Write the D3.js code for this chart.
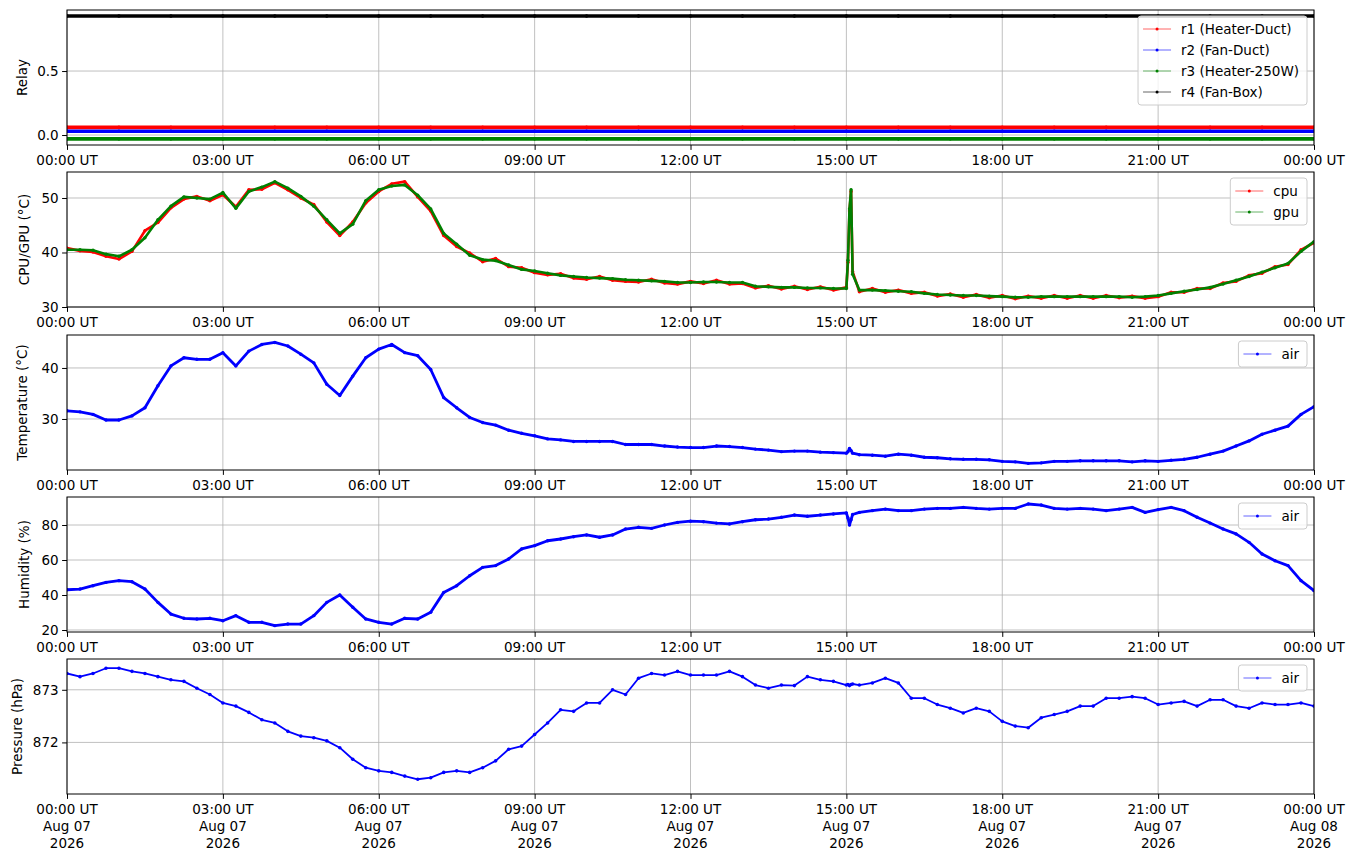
<!DOCTYPE html>
<html>
<head>
<meta charset="utf-8">
<script src="https://cdn.jsdelivr.net/npm/d3@7"></script>
<style>
  body { margin: 0; background: #fff; }
  text { font-family: "DejaVu Sans", sans-serif; }
</style>
</head>
<body>
<div id="chart"></div>
<script>
// sample times, hours after 2026-08-07 00:00 UT
const hours = [
  0, 0.25, 0.5, 0.75, 1, 1.25, 1.5, 1.75, 2, 2.25, 2.5, 2.75,
  3, 3.25, 3.5, 3.75, 4, 4.25, 4.5, 4.75, 5, 5.25, 5.5, 5.75,
  6, 6.25, 6.5, 6.75, 7, 7.25, 7.5, 7.75, 8, 8.25, 8.5, 8.75,
  9, 9.25, 9.5, 9.75, 10, 10.25, 10.5, 10.75, 11, 11.25, 11.5, 11.75,
  12, 12.25, 12.5, 12.75, 13, 13.25, 13.5, 13.75, 14, 14.25, 14.5, 14.75,
  15, 15.03, 15.06, 15.09, 15.12, 15.25, 15.5, 15.75,
  16, 16.25, 16.5, 16.75, 17, 17.25, 17.5, 17.75,
  18, 18.25, 18.5, 18.75, 19, 19.25, 19.5, 19.75,
  20, 20.25, 20.5, 20.75, 21, 21.25, 21.5, 21.75,
  22, 22.25, 22.5, 22.75, 23, 23.25, 23.5, 23.75, 24
];

const gpu = [
  40.5, 40.5, 40.4, 39.7, 39.3, 40.5, 42.7, 46.0, 48.5, 50.2, 50.0, 49.8,
  51.0, 48.1, 51.2, 52.0, 53.0, 51.8, 50.3, 48.5, 46.0, 43.5, 45.2, 49.5,
  51.5, 52.2, 52.4, 50.5, 48.0, 43.5, 41.5, 39.5, 38.7, 38.5, 37.7, 36.9,
  36.6, 36.2, 35.8, 35.6, 35.4, 35.3, 35.2, 35.0, 34.9, 34.8, 34.7, 34.5,
  34.5, 34.6, 34.6, 34.5, 34.5, 33.8, 33.7, 33.6, 33.6, 33.5, 33.5, 33.4,
  33.4, 38.6, 48.0, 51.5, 36.0, 33.1, 33.1, 33.0,
  32.9, 32.8, 32.5, 32.3, 32.2, 32.1, 32.1, 32.0,
  31.9, 31.8, 31.8, 31.9, 31.9, 31.9, 31.9, 31.9,
  31.9, 31.9, 31.8, 31.9, 32.1, 32.5, 32.9, 33.2,
  33.6, 34.2, 34.9, 35.6, 36.4, 37.2, 38.0, 40.2, 42.0
];

const cpu = [
  40.8, 40.3, 40.1, 39.3, 38.8, 40.2, 44.0, 45.5, 48.2, 49.8, 50.3, 49.5,
  50.6, 48.4, 51.5, 51.6, 52.8, 51.5, 50.0, 48.8, 45.6, 43.1, 45.6, 49.1,
  51.2, 52.6, 53.0, 50.2, 47.6, 43.1, 41.1, 39.9, 38.3, 38.9, 37.4, 37.2,
  36.3, 35.9, 36.1, 35.3, 35.1, 35.6, 34.9, 34.7, 34.6, 35.1, 34.4, 34.2,
  34.7, 34.3, 34.9, 34.2, 34.3, 33.5, 33.9, 33.3, 33.8, 33.2, 33.7, 33.1,
  33.6, 38.2, 47.6, 51.2, 36.5, 32.8, 33.4, 32.7,
  33.1, 32.5, 32.7, 32.0, 32.4, 31.8, 32.3, 31.7,
  32.1, 31.5, 32.0, 31.6, 32.1, 31.6, 32.1, 31.6,
  32.1, 31.7, 32.0, 31.6, 31.9, 32.7, 32.7, 33.4,
  33.4, 34.4, 34.7, 35.8, 36.2, 37.4, 37.8, 40.5, 41.8
];

const airTemp = [
  31.6, 31.4, 30.9, 29.8, 29.8, 30.6, 32.2, 36.5, 40.4, 42.0, 41.7, 41.7,
  43.0, 40.4, 43.3, 44.6, 45.0, 44.3, 42.7, 41.0, 36.8, 34.6, 38.4, 42.0,
  43.7, 44.6, 43.0, 42.4, 39.7, 34.2, 32.2, 30.3, 29.3, 28.8, 27.8, 27.2,
  26.7, 26.1, 25.9, 25.6, 25.6, 25.6, 25.6, 25.0, 25.0, 25.0, 24.7, 24.5,
  24.4, 24.4, 24.7, 24.6, 24.4, 24.1, 23.9, 23.6, 23.7, 23.7, 23.5, 23.4,
  23.3, 23.6, 24.2, 23.8, 23.3, 23.0, 22.9, 22.7,
  23.1, 22.9, 22.5, 22.4, 22.2, 22.1, 22.1, 22.0,
  21.7, 21.6, 21.3, 21.4, 21.7, 21.7, 21.8, 21.8,
  21.8, 21.8, 21.6, 21.8, 21.7, 21.9, 22.1, 22.5,
  23.1, 23.7, 24.7, 25.7, 27.0, 27.8, 28.6, 30.9, 32.4
];

const humidity = [
  43.0, 43.4, 45.3, 47.2, 48.2, 47.6, 43.4, 35.8, 29.1, 26.7, 26.3, 26.7,
  25.3, 28.2, 24.4, 24.4, 22.5, 23.4, 23.4, 28.2, 35.8, 40.0, 33.0, 26.3,
  24.4, 23.4, 26.7, 26.3, 30.1, 41.5, 45.3, 51.0, 55.8, 56.8, 60.6, 66.3,
  68.2, 71.0, 72.0, 73.3, 74.3, 73.0, 74.3, 77.7, 78.7, 78.1, 80.0, 81.5,
  82.2, 81.9, 81.1, 80.6, 81.9, 83.0, 83.4, 84.4, 85.7, 85.0, 85.7, 86.3,
  86.9, 84.0, 80.0, 83.0, 86.0, 87.2, 88.2, 89.1,
  88.2, 88.2, 89.1, 89.5, 89.5, 90.1, 89.5, 89.1,
  89.5, 89.5, 92.0, 91.4, 89.5, 89.1, 89.5, 89.1,
  88.2, 89.1, 90.1, 87.2, 88.8, 90.1, 88.2, 84.4,
  81.1, 77.7, 74.9, 70.1, 63.4, 59.6, 56.8, 48.2, 42.5
];

const pressure = [
  873.31, 873.25, 873.31, 873.41, 873.41, 873.35, 873.31, 873.25, 873.19, 873.16, 873.03, 872.91,
  872.75, 872.69, 872.57, 872.43, 872.37, 872.21, 872.12, 872.09, 872.03, 871.90, 871.68, 871.52,
  871.46, 871.43, 871.36, 871.30, 871.33, 871.43, 871.46, 871.43, 871.52, 871.65, 871.87, 871.93,
  872.15, 872.37, 872.62, 872.59, 872.75, 872.75, 873.00, 872.91, 873.22, 873.31, 873.28, 873.35,
  873.28, 873.28, 873.28, 873.35, 873.25, 873.09, 873.03, 873.09, 873.08, 873.25, 873.19, 873.16,
  873.09, 873.10, 873.08, 873.10, 873.11, 873.09, 873.13, 873.22,
  873.13, 872.84, 872.84, 872.72, 872.65, 872.56, 872.65, 872.59,
  872.40, 872.31, 872.28, 872.47, 872.53, 872.59, 872.69, 872.69,
  872.84, 872.84, 872.87, 872.84, 872.72, 872.75, 872.78, 872.69,
  872.81, 872.81, 872.69, 872.65, 872.75, 872.72, 872.72, 872.75, 872.69
];

// relay states (plotted with a small offset per relay), sampled hourly
const relayHours = [0, 1, 2, 3, 4, 5, 6, 7, 8, 9, 10, 11, 12, 13, 14, 15, 16, 17, 18, 19, 20, 21, 22, 23, 24];
const r1 = [0.06, 0.06, 0.06, 0.06, 0.06, 0.06, 0.06, 0.06, 0.06, 0.06, 0.06, 0.06, 0.06, 0.06, 0.06, 0.06, 0.06, 0.06, 0.06, 0.06, 0.06, 0.06, 0.06, 0.06, 0.06];
const r2 = [0.03, 0.03, 0.03, 0.03, 0.03, 0.03, 0.03, 0.03, 0.03, 0.03, 0.03, 0.03, 0.03, 0.03, 0.03, 0.03, 0.03, 0.03, 0.03, 0.03, 0.03, 0.03, 0.03, 0.03, 0.03];
const r3 = [-0.03, -0.03, -0.03, -0.03, -0.03, -0.03, -0.03, -0.03, -0.03, -0.03, -0.03, -0.03, -0.03, -0.03, -0.03, -0.03, -0.03, -0.03, -0.03, -0.03, -0.03, -0.03, -0.03, -0.03, -0.03];
const r4 = [0.93, 0.93, 0.93, 0.93, 0.93, 0.93, 0.93, 0.93, 0.93, 0.93, 0.93, 0.93, 0.93, 0.93, 0.93, 0.93, 0.93, 0.93, 0.93, 0.93, 0.93, 0.93, 0.93, 0.93, 0.93];

const relayNames = ["r1 (Heater-Duct)", "r2 (Fan-Duct)", "r3 (Heater-250W)", "r4 (Fan-Box)"];
const xTickHours = [0, 3, 6, 9, 12, 15, 18, 21, 24];

const W = 1355, H = 861;
const left = 67, right = 1314, panelH = 135;
const start = Date.UTC(2026, 7, 7, 0, 0);
const toDate = h => new Date(start + h * 3600e3);

const x = d3.scaleUtc().domain([toDate(0), toDate(24)]).range([left, right]);

const svg = d3.select("#chart").append("svg")
    .attr("width", W).attr("height", H);

// trace: width of the drawn line (the original trace is a dense run of dots)
const panels = [
    {top: 10, domain: [-0.078, 0.977], ticks: [0, 0.5], fmt: d3.format(".1f"), label: "Relay", labelX: 22, trace: 3.6, dot: 1.8,
     series: [
        {name: relayNames[0], t: relayHours, v: r1, color: "red"},
        {name: relayNames[1], t: relayHours, v: r2, color: "blue"},
        {name: relayNames[2], t: relayHours, v: r3, color: "green"},
        {name: relayNames[3], t: relayHours, v: r4, color: "black"}]},
    {top: 172, domain: [30, 54.77], ticks: [30, 40, 50], fmt: d3.format("d"), label: "CPU/GPU (°C)", labelX: 24, trace: 2.6, dot: 1.7,
     series: [
        {name: "cpu", t: hours, v: cpu, color: "red"},
        {name: "gpu", t: hours, v: gpu, color: "green"}]},
    {top: 335, domain: [20.0, 46.46], ticks: [30, 40], fmt: d3.format("d"), label: "Temperature (°C)", labelX: 22, trace: 2.8, dot: 1.7,
     series: [{name: "air", t: hours, v: airTemp, color: "blue"}]},
    {top: 497, domain: [18.86, 96], ticks: [20, 40, 60, 80], fmt: d3.format("d"), label: "Humidity (%)", labelX: 24, trace: 2.8, dot: 1.7,
     series: [{name: "air", t: hours, v: humidity, color: "blue"}]},
    {top: 659, domain: [871.02, 873.585], ticks: [872, 873], fmt: d3.format("d"), label: "Pressure (hPa)", labelX: 17, trace: 1.8, dot: 1.8,
     series: [{name: "air", t: hours, v: pressure, color: "blue"}], last: true}
];

panels.forEach(function(p) {
    const bottom = p.top + panelH;
    const y = d3.scaleLinear().domain(p.domain).range([bottom, p.top]);
    const g = svg.append("g");

    const clipId = "clip" + p.top;
    svg.append("clipPath").attr("id", clipId)
      .append("rect").attr("x", left).attr("y", p.top).attr("width", right - left).attr("height", panelH);

    // grid
    g.selectAll(".gx").data(xTickHours).enter().append("line")
        .attr("x1", d => x(toDate(d))).attr("x2", d => x(toDate(d)))
        .attr("y1", p.top).attr("y2", bottom)
        .attr("stroke", "#b0b0b0").attr("stroke-width", 0.8);
    g.selectAll(".gy").data(p.ticks).enter().append("line")
        .attr("x1", left).attr("x2", right)
        .attr("y1", d => y(d)).attr("y2", d => y(d))
        .attr("stroke", "#b0b0b0").attr("stroke-width", 0.8);

    // series
    const plot = g.append("g").attr("clip-path", "url(#" + clipId + ")");
    p.series.forEach(function(s) {
        const pts = s.t.map((h, i) => [x(toDate(h)), y(s.v[i])]);
        plot.append("path")
            .attr("d", d3.line()(pts))
            .attr("fill", "none")
            .attr("stroke", s.color)
            .attr("stroke-linejoin", "round")
            .attr("stroke-width", p.trace);
        plot.selectAll(null).data(pts).enter().append("circle")
            .attr("cx", d => d[0]).attr("cy", d => d[1])
            .attr("r", p.dot)
            .attr("fill", s.color);
    });

    // axes
    const yAxis = d3.axisLeft(y).tickValues(p.ticks).tickFormat(p.fmt).tickSize(4.9).tickPadding(3.5);
    const ga = g.append("g").attr("transform", "translate(" + left + ",0)").call(yAxis);
    ga.select(".domain").remove();
    ga.selectAll("text").attr("font-size", 13.5).attr("fill", "black").attr("font-family", "DejaVu Sans");

    const xAxis = d3.axisBottom(x).tickValues(xTickHours.map(toDate)).tickSize(4.9).tickFormat("");
    const gx = g.append("g").attr("transform", "translate(0," + bottom + ")").call(xAxis);
    gx.select(".domain").remove();

    xTickHours.forEach(function(h) {
        const d = toDate(h);
        const t = g.append("text")
            .attr("x", x(d))
            .attr("y", bottom + 20)
            .attr("text-anchor", "middle")
            .attr("font-size", 13.5);
        t.append("tspan").attr("x", x(d)).text(d3.utcFormat("%H:%M")(d) + " UT");
        if (p.last) {
            t.append("tspan").attr("x", x(d)).attr("dy", 17).text(d3.utcFormat("%b %d")(d));
            t.append("tspan").attr("x", x(d)).attr("dy", 17).text(d3.utcFormat("%Y")(d));
        }
    });

    // frame
    g.append("rect").attr("x", left).attr("y", p.top)
        .attr("width", right - left).attr("height", panelH)
        .attr("fill", "none").attr("stroke", "black").attr("stroke-width", 1);

    // y label
    g.append("text")
        .attr("transform", "translate(" + p.labelX + "," + (p.top + panelH / 2) + ") rotate(-90)")
        .attr("text-anchor", "middle")
        .attr("dy", "0.35em")
        .attr("font-size", 13.5)
        .text(p.label);

    // legend
    const lg = g.append("g");
    const box = lg.append("rect").attr("rx", 3).attr("ry", 3)
        .attr("fill", "white").attr("fill-opacity", 0.8)
        .attr("stroke", "#cccccc").attr("stroke-width", 1);
    const rowH = 21;
    let maxW = 0;
    const items = p.series.map(function(s, i) {
        const cy = p.top + 19 + i * rowH;
        const line = lg.append("line").attr("y1", cy).attr("y2", cy)
            .attr("stroke", s.color).attr("stroke-opacity", 0.6).attr("stroke-width", 1);
        const dot = lg.append("circle").attr("cy", cy).attr("r", 1.5).attr("fill", s.color);
        const txt = lg.append("text").attr("y", cy).attr("dy", "0.35em")
            .attr("font-size", 13.5).text(s.name);
        maxW = Math.max(maxW, txt.node().getComputedTextLength());
        return {line, dot, txt};
    });
    const boxW = 5 + 28 + 10 + maxW + 8;
    const bx = right - 7 - boxW;
    box.attr("x", bx).attr("y", p.top + 6).attr("width", boxW).attr("height", p.series.length * rowH + 5);
    items.forEach(function(it) {
        it.line.attr("x1", bx + 5).attr("x2", bx + 33);
        it.dot.attr("cx", bx + 19);
        it.txt.attr("x", bx + 43);
    });
});
</script>
</body>
</html>
